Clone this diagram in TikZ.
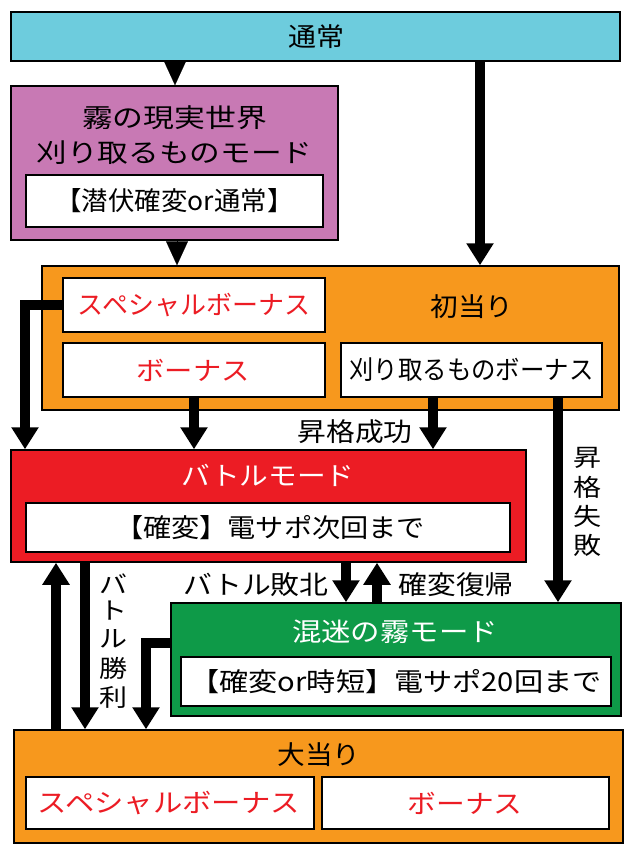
\documentclass[tikz,border=0pt]{standalone}
\usepackage{fontspec}
\setmainfont{Noto Sans CJK JP}
\usetikzlibrary{arrows.meta}
\definecolor{cyanc}{HTML}{6DCCDD}
\definecolor{purplec}{HTML}{C879B4}
\definecolor{orangec}{HTML}{F7981D}
\definecolor{redc}{HTML}{EC1C24}
\definecolor{greenc}{HTML}{0E9A48}
\definecolor{redtext}{HTML}{EC1C24}
\newcommand{\tw}[2]{\resizebox{#1}{\height}{#2}}
\tikzset{
  box/.style={draw=black, line width=1.5pt, minimum width=#1, inner sep=0pt, anchor=center},
  wbox/.style={draw=black, line width=1.5pt, fill=white, inner sep=0pt, anchor=center},
  txt/.style={inner sep=0pt, font=\fontsize{26}{29}\selectfont},
  vch/.style={inner sep=0pt, font=\fontsize{24}{26}\selectfont},
  thick arrow/.style={line width=10pt, -{Triangle[width=26pt,length=22pt]}},
  tri arrow/.style={line width=0.1pt, -{Triangle[width=22pt,length=24pt]}},
}
\begin{document}
\begin{tikzpicture}[x=1pt,y=-1pt]
\useasboundingbox (0,0) rectangle (632,850);
% boxes
\node[box=609pt, minimum height=49pt, fill=cyanc] (top) at (315.5,36.5) {};
\node[txt] (toptxt) at (316,36.5) {\tw{56pt}{通常}};

\node[box=327pt, minimum height=154pt, fill=purplec] (kiri) at (174.5,163) {};
\node[txt] (kiri1) at (174.5,118) {\tw{185pt}{霧の現実世界}};
\node[txt] (kiri2) at (174.5,153) {\tw{276pt}{刈り取るものモード}};
\node[wbox, minimum width=297pt, minimum height=52pt] (kiriin) at (174.5,201) {};
\node[txt] (kiriintxt) at (174.5,201) {\tw{238pt}{【潜伏確変or通常】}};

\node[box=577pt, minimum height=144pt, fill=orangec] (shoki) at (330.5,338) {};
\node[txt] (shokitxt) at (472,307) {\tw{83pt}{初当り}};
\node[wbox, minimum width=262pt, minimum height=54pt] (sp1) at (194,305) {};
\node[txt, text=redtext] (sp1txt) at (194,305) {\tw{232pt}{スペシャルボーナス}};
\node[wbox, minimum width=262pt, minimum height=54pt] (bn1) at (194,370) {};
\node[txt, text=redtext] (bn1txt) at (193,370) {\tw{113pt}{ボーナス}};
\node[wbox, minimum width=261pt, minimum height=54pt] (kari) at (471.5,370) {};
\node[txt] (karitxt) at (471.5,370) {\tw{244pt}{刈り取るものボーナス}};

\node[box=515pt, minimum height=112pt, fill=redc] (battle) at (268.5,506) {};
\node[txt, text=white] (battletxt) at (268,475) {\tw{173pt}{バトルモード}};
\node[wbox, minimum width=484pt, minimum height=49pt] (battlein) at (268,527.5) {};
\node[txt] (battleintxt) at (270,527.5) {\tw{310pt}{【確変】電サポ次回まで}};

\node[box=450pt, minimum height=113pt, fill=greenc] (green) at (396,659.5) {};
\node[txt, text=white] (greentxt) at (395,632) {\tw{206pt}{混迷の霧モード}};
\node[wbox, minimum width=430pt, minimum height=49pt] (greenin) at (396,681.5) {};
\node[txt] (greenintxt) at (396,681.5) {\tw{411pt}{【確変or時短】電サポ20回まで}};

\node[box=609pt, minimum height=113pt, fill=orangec] (oatari) at (318.5,786.5) {};
\node[txt] (oataritxt) at (319,755) {\tw{83pt}{大当り}};
\node[wbox, minimum width=288pt, minimum height=52pt] (sp2) at (170,803) {};
\node[txt, text=redtext] (sp2txt) at (169,803) {\tw{262pt}{スペシャルボーナス}};
\node[wbox, minimum width=287pt, minimum height=52pt] (bn2) at (465.5,803) {};
\node[txt, text=redtext] (bn2txt) at (465,803) {\tw{115pt}{ボーナス}};

% labels
\node[txt] (l1) at (355,432) {\tw{115pt}{昇格成功}};
\node[vch] (l2a) at (587,458) {\tw{28pt}{昇}};
\node[vch] (l2b) at (587,487) {\tw{28pt}{格}};
\node[vch] (l2c) at (587,516) {\tw{28pt}{失}};
\node[vch] (l2d) at (587,545) {\tw{28pt}{敗}};
\node[vch] (l3a) at (113,584) {\tw{28pt}{バ}};
\node[vch] (l3b) at (113,611) {\tw{28pt}{ト}};
\node[vch] (l3c) at (113,639) {\tw{28pt}{ル}};
\node[vch] (l3d) at (113,668) {\tw{28pt}{勝}};
\node[vch] (l3e) at (113,697) {\tw{28pt}{利}};
\node[txt] (l4) at (256,585) {\tw{145pt}{バトル敗北}};
\node[txt] (l5) at (456,585) {\tw{115pt}{確変復帰}};

% connectors
\coordinate (c1) at (25,305);
\coordinate (c2) at (146,643);
\draw[tri arrow] (top.south -| 175,0) -- (kiri.north -| 175,0);
\draw[tri arrow] (kiri.south -| 177,0) -- (shoki.north -| 177,0);
\draw[thick arrow] (top.south -| 480,0) -- (shoki.north -| 480,0);
\draw[thick arrow] (sp1.west) -- (c1) -- (battle.north -| c1);
\draw[thick arrow] (bn1.south) -- (battle.north -| bn1.south);
\draw[thick arrow] (kari.south -| 433,0) -- (battle.north -| 433,0);
\draw[thick arrow] (kari.south -| 558,0) -- (green.north -| 558,0);
\draw[thick arrow] (oatari.north -| 56,0) -- (battle.south -| 56,0);
\draw[thick arrow] (battle.south -| 85,0) -- (oatari.north -| 85,0);
\draw[thick arrow] (green.west |- c2) -- (c2) -- (oatari.north -| c2);
\draw[thick arrow] (battle.south -| 346,0) -- (green.north -| 346,0);
\draw[thick arrow] (green.north -| 377,0) -- (battle.south -| 377,0);
\end{tikzpicture}
\end{document}
